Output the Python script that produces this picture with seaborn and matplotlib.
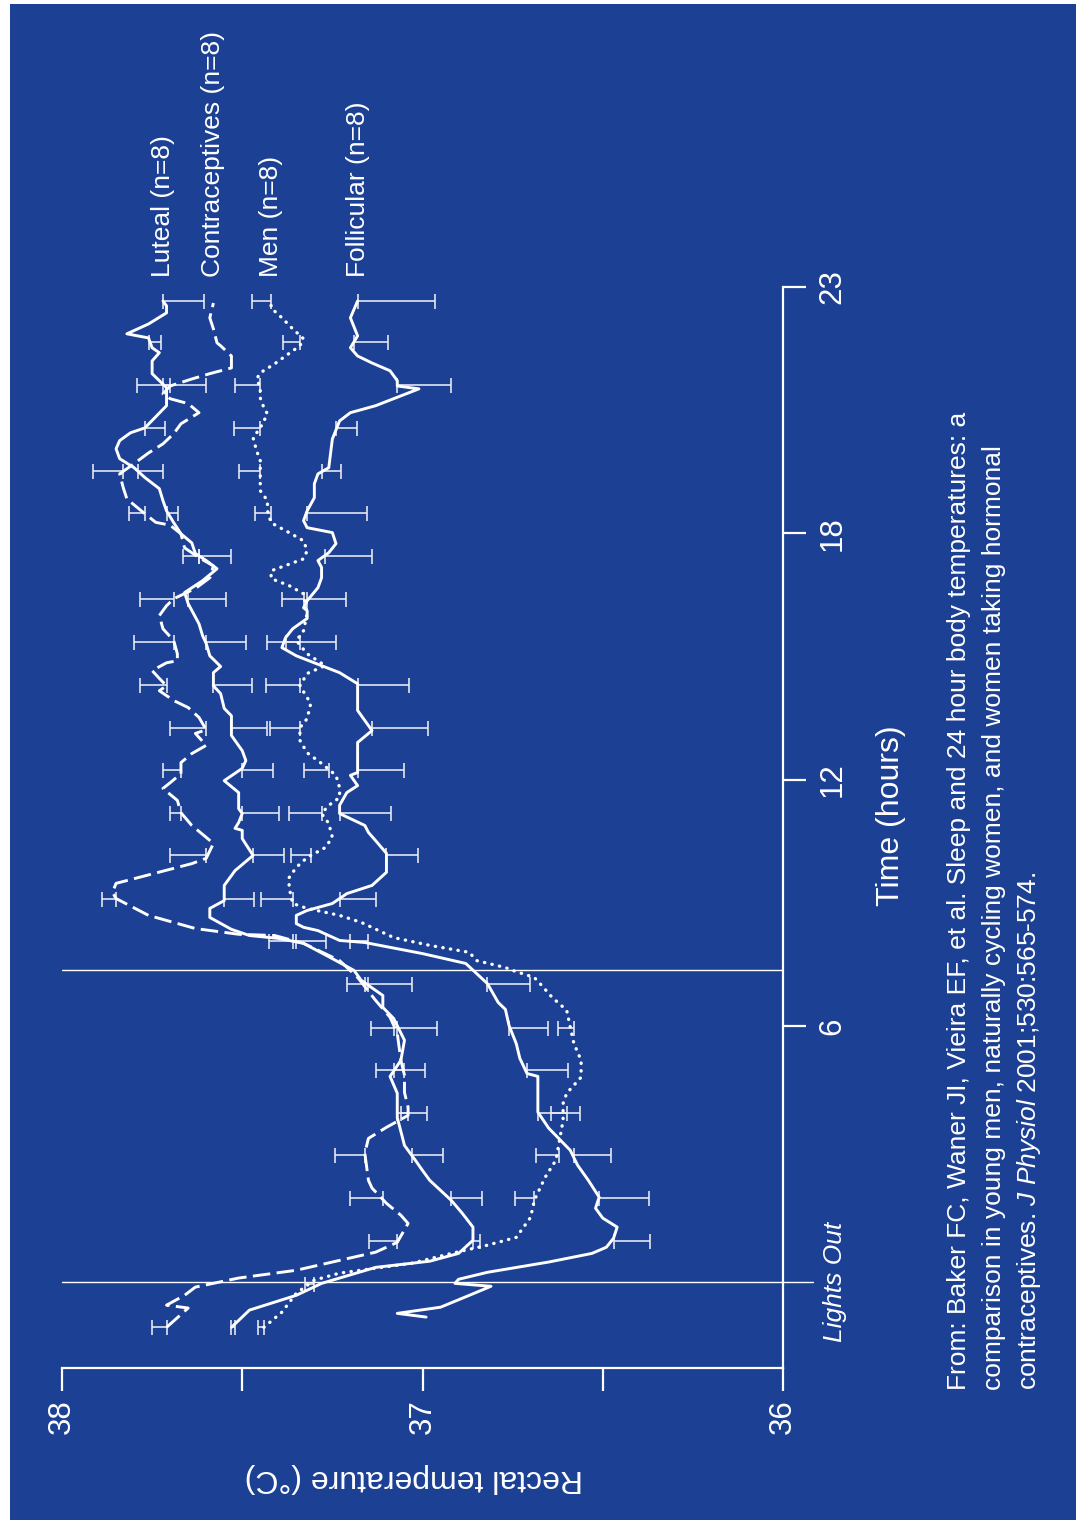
import numpy as np
import pandas as pd
import matplotlib
matplotlib.use("Agg")
import matplotlib.pyplot as plt
from matplotlib.patches import Rectangle
import seaborn as sns

# ---------------------------------------------------------------------------
# Mean rectal temperature (deg C) against time (hours), four groups (n=8 each)
# ---------------------------------------------------------------------------
luteal_hours = [-1.33, -0.91, -0.55, -0.26, 0.13, 0.28, 0.47, 0.79, 1.11, 1.45,
                1.76, 2.25, 2.49, 2.74, 3.10, 3.78, 4.37, 4.78, 5.17, 5.66,
                6.19, 6.46, 6.75, 7.12, 7.36, 7.60, 8.02, 8.14, 8.21, 8.36,
                8.65, 8.87, 9.06, 9.43, 9.79, 10.16, 10.57, 10.77, 10.82, 10.96,
                11.18, 11.30, 11.69, 11.98, 12.28, 12.47, 12.71, 13.08, 13.56, 13.74,
                14.10, 14.29, 14.61, 14.76, 15.02, 15.32, 15.51, 15.80, 16.29, 16.56,
                16.85, 17.14, 17.34, 17.51, 17.77, 17.99, 18.26, 18.55, 18.80, 19.09,
                19.36, 19.60, 19.82, 20.06, 20.26, 20.45, 20.57, 21.11, 21.30, 21.55,
                21.89, 22.20, 22.40, 22.52, 22.76, 22.86, 23.10, 23.37, 23.54, 23.66]
luteal_temp = [37.53, 37.48, 37.35, 37.28, 37.13, 36.98, 36.90, 36.86, 36.86, 36.89,
               36.92, 36.98, 37.00, 37.02, 37.05, 37.07, 37.07, 37.09, 37.06, 37.05,
               37.08, 37.11, 37.11, 37.17, 37.19, 37.24, 37.33, 37.40, 37.48, 37.53,
               37.59, 37.59, 37.55, 37.55, 37.52, 37.47, 37.50, 37.50, 37.52, 37.51,
               37.50, 37.51, 37.51, 37.55, 37.50, 37.49, 37.50, 37.53, 37.53, 37.55,
               37.56, 37.58, 37.58, 37.56, 37.59, 37.60, 37.61, 37.62, 37.65, 37.66,
               37.61, 37.57, 37.60, 37.63, 37.64, 37.67, 37.69, 37.71, 37.72, 37.73,
               37.77, 37.80, 37.84, 37.85, 37.84, 37.81, 37.77, 37.71, 37.71, 37.71,
               37.75, 37.75, 37.73, 37.75, 37.76, 37.82, 37.76, 37.71, 37.71, 37.72]

contra_hours = [-1.33, -0.86, -0.79, -0.55, -0.35, -0.13, 0.06, 0.30, 0.50, 0.74,
                1.20, 1.40, 1.69, 2.06, 2.25, 2.91, 3.27, 3.54, 3.83, 4.03,
                4.39, 4.81, 5.17, 5.83, 6.22, 6.63, 7.19, 7.60, 8.02, 8.21,
                8.24, 8.38, 8.70, 9.11, 9.26, 9.48, 9.96, 10.09, 10.45, 10.60,
                10.89, 11.20, 11.50, 11.79, 11.93, 12.15, 12.42, 12.64, 12.84, 13.13,
                13.22, 13.52, 13.76, 13.93, 14.17, 14.29, 14.47, 14.66, 14.85, 14.90,
                15.07, 15.39, 15.68, 16.00, 16.24, 16.41, 16.66, 16.92, 17.21, 17.41,
                17.65, 17.99, 18.20, 18.27, 18.55, 18.84, 19.11, 19.45, 19.70, 19.96,
                20.18, 20.43, 20.67, 20.94, 21.16, 21.28, 21.40, 21.59, 21.76, 21.89,
                22.03, 22.32, 22.57, 22.64, 22.98, 23.25, 23.61]
contra_temp = [37.71, 37.65, 37.71, 37.66, 37.63, 37.51, 37.35, 37.23, 37.13, 37.07,
               37.04, 37.06, 37.10, 37.14, 37.15, 37.16, 37.15, 37.10, 37.04, 37.04,
               37.05, 37.05, 37.06, 37.07, 37.09, 37.13, 37.18, 37.23, 37.33, 37.41,
               37.51, 37.63, 37.76, 37.85, 37.86, 37.85, 37.64, 37.60, 37.58, 37.60,
               37.64, 37.67, 37.68, 37.72, 37.70, 37.67, 37.67, 37.64, 37.60, 37.63,
               37.60, 37.62, 37.65, 37.69, 37.73, 37.71, 37.73, 37.75, 37.71, 37.68,
               37.68, 37.69, 37.72, 37.73, 37.71, 37.69, 37.63, 37.59, 37.58, 37.62,
               37.66, 37.67, 37.70, 37.74, 37.78, 37.82, 37.83, 37.84, 37.80, 37.76,
               37.72, 37.69, 37.67, 37.62, 37.65, 37.70, 37.72, 37.70, 37.64, 37.59,
               37.53, 37.53, 37.56, 37.57, 37.58, 37.59, 37.58]

men_hours = [-1.33, -0.96, -0.50, -0.18, -0.01, 0.11, 0.23, 0.47, 0.67, 0.86,
             1.35, 1.76, 2.32, 2.74, 3.22, 3.71, 4.12, 4.37, 4.76, 5.17,
             5.58, 5.97, 6.39, 6.70, 7.00, 7.19, 7.36, 7.43, 7.60, 7.80,
             7.97, 8.16, 8.53, 8.70, 8.87, 8.99, 9.38, 9.62, 9.87, 10.11,
             10.35, 10.60, 10.94, 11.18, 11.38, 11.57, 11.81, 12.11, 12.40, 12.66,
             12.96, 13.27, 13.49, 13.86, 14.29, 14.59, 14.78, 15.07, 15.39, 15.63,
             16.05, 16.53, 16.73, 16.90, 17.09, 17.38, 17.58, 17.82, 18.02, 18.26,
             18.55, 18.80, 19.04, 19.45, 19.77, 20.01, 20.33, 20.57, 20.91, 21.06,
             21.30, 21.55, 21.76, 21.91, 22.13, 22.32, 22.57, 22.74, 22.98, 23.25,
             23.49, 23.66]
men_temp = [37.44, 37.39, 37.35, 37.30, 37.23, 37.13, 37.03, 36.92, 36.82, 36.74,
            36.70, 36.69, 36.66, 36.63, 36.62, 36.61, 36.61, 36.60, 36.56, 36.56,
            36.58, 36.59, 36.60, 36.64, 36.67, 36.69, 36.75, 36.77, 36.85, 36.87,
            36.98, 37.08, 37.17, 37.23, 37.32, 37.36, 37.37, 37.37, 37.35, 37.32,
            37.27, 37.25, 37.26, 37.28, 37.26, 37.23, 37.23, 37.24, 37.28, 37.32,
            37.34, 37.34, 37.32, 37.31, 37.34, 37.32, 37.27, 37.32, 37.35, 37.33,
            37.32, 37.33, 37.37, 37.42, 37.42, 37.33, 37.32, 37.33, 37.37, 37.42,
            37.43, 37.43, 37.45, 37.45, 37.45, 37.46, 37.47, 37.45, 37.43, 37.44,
            37.45, 37.45, 37.46, 37.45, 37.41, 37.38, 37.34, 37.33, 37.36, 37.39,
            37.42, 37.42]

foll_hours = [-1.08, -0.99, -0.94, -0.84, -0.55, -0.33, -0.26, -0.16, 0.01, 0.26,
              0.47, 0.62, 0.84, 1.11, 1.33, 1.57, 1.84, 2.25, 2.62, 2.98,
              3.52, 3.91, 4.78, 4.85, 5.22, 5.58, 6.02, 6.41, 6.58, 7.04,
              7.53, 7.77, 8.04, 8.09, 8.33, 8.41, 8.50, 8.70, 8.82, 8.99,
              9.23, 9.43, 9.75, 10.21, 10.52, 10.72, 10.89, 11.18, 11.38, 11.69,
              11.86, 12.11, 12.18, 12.91, 13.20, 13.69, 14.34, 14.61, 14.78, 15.02,
              15.22, 15.46, 15.68, 15.93, 16.12, 16.19, 16.36, 16.68, 16.92, 17.17,
              17.34, 17.53, 17.75, 18.02, 18.14, 18.31, 18.55, 18.87, 19.21, 19.45,
              19.60, 20.30, 20.74, 20.94, 21.11, 21.52, 21.59, 21.72, 21.96, 22.15,
              22.32, 22.52, 22.81, 23.25, 23.66]
foll_temp = [36.99, 37.07, 37.03, 36.95, 36.87, 36.81, 36.91, 36.90, 36.82, 36.65,
             36.53, 36.49, 36.47, 36.46, 36.50, 36.52, 36.51, 36.54, 36.57, 36.59,
             36.65, 36.68, 36.68, 36.71, 36.73, 36.74, 36.76, 36.77, 36.79, 36.82,
             36.88, 37.00, 37.16, 37.23, 37.29, 37.33, 37.35, 37.35, 37.32, 37.25,
             37.21, 37.14, 37.10, 37.10, 37.13, 37.15, 37.16, 37.23, 37.23, 37.21,
             37.18, 37.20, 37.18, 37.18, 37.14, 37.18, 37.18, 37.23, 37.28, 37.35,
             37.39, 37.38, 37.36, 37.32, 37.32, 37.33, 37.32, 37.29, 37.28, 37.28,
             37.29, 37.26, 37.24, 37.25, 37.32, 37.33, 37.32, 37.30, 37.30, 37.29,
             37.26, 37.25, 37.23, 37.20, 37.13, 37.01, 37.07, 37.07, 37.09, 37.14,
             37.18, 37.20, 37.18, 37.20, 37.18]

# Hourly SEM bars: group mean at each bar time and its one-sided SEM
bar_hours = [-1.33, -0.28, 0.77, 1.81, 2.86, 3.90, 4.93, 5.97, 7.02, 8.07,
             9.11, 10.16, 11.20, 12.25, 13.27, 14.31, 15.36, 16.41, 17.45, 18.50,
             19.53, 20.57, 21.62, 22.66, 23.66]

luteal_bar_mean = [37.53, 37.28, 36.86, 36.92, 37.03, 37.07, 37.08, 37.07, 37.15, 37.36,
                   37.55, 37.47, 37.50, 37.50, 37.53, 37.58, 37.60, 37.65, 37.62, 37.71,
                   37.79, 37.77, 37.72, 37.76, 37.72]
luteal_sem = [0.01, 0.0, 0.02, 0.086, 0.087, 0.083, 0.087, 0.11, 0.12, 0.092,
              0.083, 0.087, 0.103, 0.085, 0.098, 0.108, 0.11, 0.104, 0.09, 0.033,
              0.07, 0.055, 0.12, 0.034, 0.114]

contra_bar_mean = [37.71, 37.60, 37.07, 37.11, 37.16, 37.04, 37.05, 37.08, 37.16, 37.35,
                   37.85, 37.60, 37.67, 37.67, 37.60, 37.71, 37.69, 37.69, 37.62, 37.77,
                   37.83, 37.68, 37.70, 37.57, 37.58]
contra_sem = [0.04, 0.0, 0.078, 0.09, 0.084, 0.02, 0.08, 0.064, 0.05, 0.077,
              0.04, 0.10, 0.03, 0.05, 0.10, 0.075, 0.11, 0.094, 0.044, 0.045,
              0.083, 0.0, 0.093, 0.0, 0.0]

men_bar_mean = [37.44, 37.30, 36.80, 36.69, 36.62, 36.60, 36.56, 36.58, 36.67, 37.03,
                37.36, 37.31, 37.28, 37.26, 37.34, 37.34, 37.34, 37.33, 37.33, 37.42,
                37.45, 37.45, 37.45, 37.34, 37.42]
men_sem = [0.015, 0.025, 0.0, 0.054, 0.066, 0.043, 0.0, 0.044, 0.0, 0.0,
           0.089, 0.055, 0.089, 0.069, 0.084, 0.095, 0.09, 0.06, 0.0, 0.046,
           0.06, 0.072, 0.07, 0.047, 0.054]

foll_bar_mean = [36.99, 36.91, 36.47, 36.51, 36.58, 36.68, 36.71, 36.76, 36.82, 37.20,
                 37.23, 37.10, 37.23, 37.18, 37.14, 37.18, 37.38, 37.32, 37.27, 37.32,
                 37.28, 37.24, 37.07, 37.19, 37.18]
foll_sem = [0.0, 0.0, 0.10, 0.138, 0.104, 0.116, 0.113, 0.108, 0.117, 0.05,
            0.10, 0.087, 0.142, 0.128, 0.154, 0.143, 0.14, 0.107, 0.13, 0.165,
            0.053, 0.058, 0.15, 0.095, 0.215]

group_names = ["Luteal (n=8)", "Contraceptives (n=8)", "Men (n=8)", "Follicular (n=8)"]

lights_out_hour = -0.23
lights_on_hour = 7.36

temp_ticks = [38, 37.5, 37, 36.5, 36]
temp_tick_labels = ["38", "", "37", "", "36"]
hour_ticks = [6, 12, 18, 24]
hour_tick_labels = ["6", "12", "18", "23"]

citation = [
    "From: Baker FC, Waner JI, Vieira EF, et al. Sleep and 24 hour body temperatures: a",
    "comparison in young men, naturally cycling women, and women taking hormonal",
    r"contraceptives. $\mathit{J\ Physiol}$ 2001;530:565-574.",
]

# ---------------------------------------------------------------------------
sns.set_theme(style="ticks")
plt.rcParams["font.family"] = ["Liberation Sans", "DejaVu Sans"]
plt.rcParams["mathtext.fontset"] = "custom"
plt.rcParams["mathtext.rm"] = "Liberation Sans"
plt.rcParams["mathtext.it"] = "Liberation Sans:italic"

BLUE = "#1c4094"
FG = "white"
W, H = 1076, 1520

fig = plt.figure(figsize=(W / 100, H / 100), dpi=100, facecolor="white")
fig.add_artist(Rectangle((10 / W, 0), (W - 10) / W, (H - 4) / H,
                         transform=fig.transFigure, facecolor=BLUE,
                         edgecolor="none", zorder=-10))

# Page is laid out in portrait: temperature runs right-to-left, time runs upward
ax = fig.add_axes([62 / W, 1 - 1368 / H, 721 / W, 1081 / H])
ax.patch.set_alpha(0)

styles = {
    "Luteal (n=8)": dict(linestyle="-"),
    "Contraceptives (n=8)": dict(linestyle=(0, (6, 2.2))),
    "Men (n=8)": dict(linestyle=(0, (0.1, 2.2)), dash_capstyle="round", lw=2.4),
    "Follicular (n=8)": dict(linestyle="-"),
}
curves = {
    "Luteal (n=8)": (luteal_hours, luteal_temp),
    "Contraceptives (n=8)": (contra_hours, contra_temp),
    "Men (n=8)": (men_hours, men_temp),
    "Follicular (n=8)": (foll_hours, foll_temp),
}
bars = {
    "Luteal (n=8)": (luteal_bar_mean, luteal_sem, "cool"),
    "Contraceptives (n=8)": (contra_bar_mean, contra_sem, "warm"),
    "Men (n=8)": (men_bar_mean, men_sem, "warm"),
    "Follicular (n=8)": (foll_bar_mean, foll_sem, "cool"),
}

# Lights-out / lights-on markers
ax.plot([38, 35.917], [lights_out_hour, lights_out_hour], color=FG, lw=1.0,
        clip_on=False, zorder=1)
ax.plot([38, 36], [lights_on_hour, lights_on_hour], color=FG, lw=1.0, zorder=1)

# SEM bars (one-sided)
hb = np.array(bar_hours)
for name in group_names:
    mean, sem, side = bars[name]
    m = np.array(mean)
    s = np.array(sem)
    keep = s > 0
    zeros = np.zeros(keep.sum())
    xerr = [s[keep], zeros] if side == "cool" else [zeros, s[keep]]
    ax.errorbar(m[keep], hb[keep], xerr=xerr, fmt="none", ecolor="#eceef5",
                elinewidth=1.15, capsize=5.4, capthick=1.15, zorder=2)

# Group curves
for name in group_names:
    h, t = curves[name]
    df = pd.DataFrame({"hour": h, "temp": t})
    kw = dict(lw=2.1)
    kw.update(styles[name])
    sns.lineplot(data=df, x="temp", y="hour", sort=False, estimator=None,
                 color=FG, ax=ax, zorder=3, **kw)
    ax.text(t[-1], 24.25, name, rotation=90, rotation_mode="anchor",
            ha="left", va="center", color=FG, fontsize=19, clip_on=False)

ax.set_xlim(38, 36)
ax.set_ylim(-2.32, 24.0)
ax.set_xlabel("")
ax.set_ylabel("")

for side in ["left", "top"]:
    ax.spines[side].set_visible(False)
for side in ["bottom", "right"]:
    ax.spines[side].set_color(FG)
    ax.spines[side].set_linewidth(1.6)

ax.yaxis.tick_right()
ax.set_xticks(temp_ticks)
ax.set_xticklabels(temp_tick_labels)
ax.set_yticks(hour_ticks)
ax.set_yticklabels(hour_tick_labels)
ax.tick_params(axis="both", colors=FG, length=16.5, width=1.6, labelsize=22.5,
               direction="out")
ax.tick_params(axis="x", bottom=True, top=False, pad=6.0, labelrotation=90)
ax.tick_params(axis="y", right=True, left=False, pad=8.5, labelrotation=90)
for lbl in ax.get_yticklabels():
    lbl.set_va("center")

ax.text(35.855, lights_out_hour, "Lights Out", rotation=90, ha="center",
        va="center", fontstyle="italic", fontsize=19, color=FG, clip_on=False)

fig.text(891 / W, 1 - 816 / H, "Time (hours)", rotation=90, ha="center",
         va="center", fontsize=23, color=FG)
fig.text(414 / W, 1 - 1478 / H, "Rectal temperature (°C)", rotation=180,
         ha="center", va="center", fontsize=23, color=FG)

for i, line in enumerate(citation):
    fig.text((966 + 35 * i) / W, 1 - 1390 / H, line, rotation=90,
             rotation_mode="anchor", ha="left", va="baseline",
             fontsize=19, color=FG)

fig.savefig("out.png", dpi=100, facecolor=fig.get_facecolor())
